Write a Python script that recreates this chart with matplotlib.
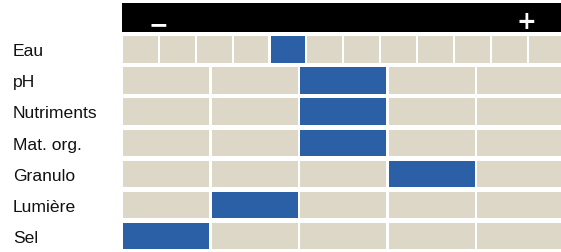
import matplotlib.pyplot as plt
from matplotlib.transforms import blended_transform_factory

# rows of the scale, number of classes per row, highlighted class (0-based)
rows = ['Eau', 'pH', 'Nutriments', 'Mat. org.', 'Granulo', 'Lumière', 'Sel']
n_levels = [12, 5, 5, 5, 5, 5, 5]
selected = [4, 2, 2, 2, 3, 1, 0]

beige = '#ddd7c7'
blue = '#2b5fa6'
span = 5.0      # width of the scale in data units
gap = 0.024     # white gap between cells

fig = plt.figure(figsize=(5.61, 2.53), dpi=100)
# axes deliberately runs past the right edge, the last column is cut off
ax = fig.add_axes([122 / 561, 0, 442.5 / 561, 1])
ax.set_xlim(0, span)
ax.set_ylim((253 - 50.5) / 31.1, -50.5 / 31.1)
ax.axis('off')

for i, (name, n, sel) in enumerate(zip(rows, n_levels, selected)):
    w = span / n
    lefts = [k * w + gap / 2 for k in range(n)]
    colors = [blue if k == sel else beige for k in range(n)]
    ax.barh([i] * n, [w - gap] * n, left=lefts, height=0.855, color=colors)

# black header with - / +
ax.barh([-1.03], [span + 0.02], left=-0.012, height=0.93, color='black')
ax.text(0.407, -0.80, '\u2212', color='white', fontsize=17, fontweight='bold',
        ha='center', va='center')
ax.text(4.565, -0.92, '+', color='white', fontsize=17, fontweight='bold',
        ha='center', va='center')

trans = blended_transform_factory(fig.transFigure, ax.transData)
for i, name in enumerate(rows):
    ax.text(13 / 561, i + 0.04, name, transform=trans, ha='left', va='center',
            fontsize=12.6, family='Liberation Sans', color='#111111')

fig.savefig('out.png', dpi=100)
